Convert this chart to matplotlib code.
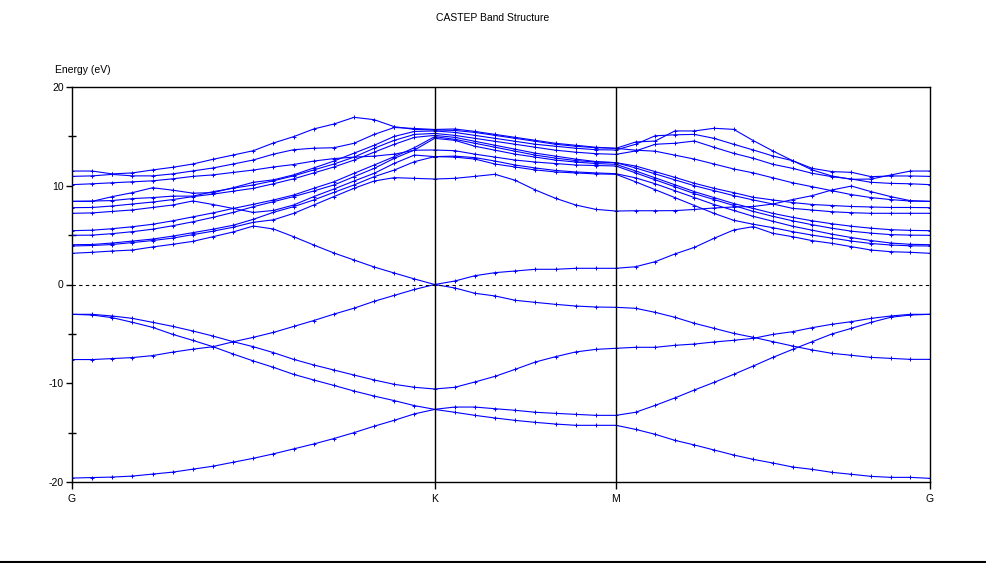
import numpy as np
import matplotlib
matplotlib.use("Agg")
import matplotlib.pyplot as plt
from matplotlib.lines import Line2D

plt.rcParams['font.family'] = ['Liberation Sans', 'DejaVu Sans']
plt.rcParams['axes.unicode_minus'] = False

# high symmetry labels
klabels = ['G', 'K', 'M', 'G']

# band energies (eV) along G-K (19 pts), K-M (10 pts), M-G (17 pts)
# valence bands
v1_gk = [-19.6, -19.55, -19.5, -19.4, -19.2, -19.0, -18.7, -18.4, -18.0, -17.6, -17.15, -16.65, -16.15, -15.6, -15.0, -14.35, -13.75, -13.1, -12.65]
v1_km = [-12.65, -12.94, -13.25, -13.52, -13.76, -13.96, -14.13, -14.26, -14.26, -14.26]
v1_mg = [-14.26, -14.67, -15.17, -15.78, -16.25, -16.76, -17.27, -17.71, -18.08, -18.48, -18.72, -19.02, -19.22, -19.43, -19.53, -19.53, -19.63]

v2_gk = [-3.02, -3.09, -3.36, -3.83, -4.34, -5.05, -5.66, -6.30, -7.04, -7.74, -8.39, -9.10, -9.67, -10.22, -10.79, -11.30, -11.76, -12.27, -12.64]
v2_km = [-12.64, -12.41, -12.41, -12.58, -12.74, -12.94, -13.05, -13.15, -13.25, -13.25]
v2_mg = [-13.25, -12.94, -12.24, -11.49, -10.68, -9.91, -9.10, -8.25, -7.38, -6.57, -5.79, -5.01, -4.44, -3.83, -3.32, -3.09, -3.02]

v3_gk = [-3.02, -3.02, -3.19, -3.43, -3.83, -4.24, -4.71, -5.22, -5.79, -6.30, -6.90, -7.58, -8.15, -8.66, -9.17, -9.67, -10.11, -10.41, -10.58]
v3_km = [-10.58, -10.41, -9.87, -9.30, -8.59, -7.85, -7.31, -6.83, -6.57, -6.46]
v3_mg = [-6.46, -6.36, -6.36, -6.16, -6.03, -5.82, -5.65, -5.45, -5.05, -4.78, -4.37, -4.03, -3.76, -3.43, -3.19, -3.02, -3.02]

v4_gk = [-7.6, -7.6, -7.5, -7.4, -7.2, -6.85, -6.55, -6.3, -5.8, -5.35, -4.85, -4.25, -3.65, -3.0, -2.4, -1.7, -1.1, -0.5, 0.0]
v4_km = [0.0, -0.35, -0.89, -1.16, -1.6, -1.81, -2.01, -2.18, -2.28, -2.31]
v4_mg = [-2.31, -2.41, -2.82, -3.32, -3.93, -4.44, -4.95, -5.35, -5.79, -6.23, -6.63, -6.97, -7.17, -7.38, -7.48, -7.58, -7.58]

# conduction bands
c0_gk = [3.16, 3.26, 3.39, 3.49, 3.80, 4.07, 4.37, 4.84, 5.32, 5.92, 5.62, 4.84, 4.00, 3.19, 2.48, 1.77, 1.16, 0.56, 0.0]
c0_km = [0.0, 0.35, 0.89, 1.2, 1.37, 1.54, 1.54, 1.64, 1.64, 1.64]
c0_mg = [1.64, 1.8, 2.31, 3.09, 3.76, 4.68, 5.52, 5.86, 5.18, 4.84, 4.44, 4.17, 3.83, 3.49, 3.32, 3.26, 3.16]

c1_gk = [3.90, 3.95, 4.05, 4.25, 4.45, 4.7, 5.05, 5.4, 5.8, 6.3, 6.55, 7.2, 8.05, 8.9, 9.74, 10.48, 10.82, 10.75, 10.68]
c1_km = [10.68, 10.75, 10.95, 11.16, 10.55, 9.57, 8.73, 8.05, 7.61, 7.44]
c1_mg = [7.44, 7.47, 7.47, 7.48, 7.6, 7.75, 7.85, 7.9, 8.15, 8.6, 9.0, 9.57, 9.97, 9.4, 8.9, 8.49, 8.42]

c2_gk = [4.03, 4.05, 4.2, 4.4, 4.6, 4.9, 5.25, 5.6, 6.0, 6.6, 7.31, 7.88, 8.56, 9.33, 10.08, 10.92, 11.59, 12.44, 12.95]
c2_km = [12.95, 12.9, 12.7, 12.2, 11.9, 11.6, 11.4, 11.3, 11.2, 11.16]
c2_mg = [11.16, 10.4, 9.6, 8.8, 8.0, 7.2, 6.5, 6.1, 5.75, 5.35, 5.0, 4.7, 4.4, 4.15, 4.0, 3.92, 3.90]

c3_gk = [7.21, 7.25, 7.4, 7.55, 7.8, 8.05, 8.46, 8.1, 7.7, 7.3, 7.5, 8.05, 8.9, 9.67, 10.48, 11.26, 12.27, 13.11, 12.95]
c3_km = [12.95, 13.0, 12.85, 12.5, 12.1, 11.8, 11.55, 11.4, 11.3, 11.22]
c3_mg = [11.22, 10.8, 10.2, 9.5, 8.8, 8.1, 7.5, 6.9, 6.4, 5.9, 5.5, 5.1, 4.75, 4.45, 4.2, 4.07, 4.03]

c4_gk = [4.98, 5.0, 5.15, 5.35, 5.6, 5.95, 6.35, 6.8, 7.3, 7.88, 8.39, 8.9, 9.47, 10.08, 10.92, 11.76, 12.78, 13.62, 14.80]
c4_km = [14.80, 14.6, 14.0, 13.6, 13.2, 12.9, 12.6, 12.4, 12.25, 12.17]
c4_mg = [12.17, 11.5, 10.8, 10.1, 9.4, 8.8, 8.2, 7.7, 7.2, 6.8, 6.45, 6.15, 5.9, 5.7, 5.55, 5.48, 5.45]

c5_gk = [5.45, 5.5, 5.65, 5.85, 6.1, 6.45, 6.85, 7.25, 7.7, 8.12, 8.56, 9.06, 9.74, 10.4, 11.26, 12.1, 12.95, 13.86, 14.97]
c5_km = [14.97, 14.7, 14.3, 13.9, 13.5, 13.1, 12.8, 12.55, 12.4, 12.34]
c5_mg = [12.34, 11.8, 11.2, 10.6, 10.0, 9.5, 9.0, 8.56, 8.15, 7.71, 7.54, 7.37, 7.27, 7.21, 7.21, 7.21, 7.21]

c6_gk = [7.78, 7.8, 7.95, 8.15, 8.35, 8.6, 8.9, 9.15, 9.45, 9.74, 10.2, 10.7, 11.3, 11.9, 12.6, 13.4, 14.2, 14.9, 15.1]
c6_km = [15.1, 14.9, 14.5, 14.1, 13.7, 13.3, 13.0, 12.7, 12.45, 12.34]
c6_mg = [12.34, 12.0, 11.43, 10.85, 10.25, 9.74, 9.3, 8.83, 8.56, 8.3, 8.1, 8.0, 7.9, 7.85, 7.8, 7.8, 7.78]

c7_gk = [8.42, 8.45, 8.5, 8.7, 8.8, 8.95, 8.95, 9.4, 9.75, 10.08, 10.5, 11.0, 11.6, 12.2, 12.9, 13.8, 14.6, 15.2, 15.3]
c7_km = [15.3, 15.1, 14.8, 14.5, 14.2, 13.9, 13.6, 13.4, 13.25, 13.18]
c7_mg = [13.18, 13.52, 14.2, 14.3, 14.53, 13.89, 13.28, 12.78, 12.17, 11.76, 11.26, 10.92, 10.68, 10.35, 10.24, 10.2, 10.11]

c8_gk = [8.42, 8.42, 8.9, 9.3, 9.8, 9.55, 9.25, 9.3, 9.8, 10.35, 10.6, 11.1, 11.8, 12.5, 13.3, 14.1, 15.0, 15.5, 15.55]
c8_km = [15.55, 15.4, 15.1, 14.8, 14.5, 14.2, 14.0, 13.8, 13.65, 13.62]
c8_mg = [13.62, 14.2, 15.06, 15.16, 15.2, 14.8, 14.2, 13.62, 13.01, 12.54, 11.76, 11.43, 11.36, 10.92, 10.99, 10.99, 10.95]

c9_gk = [10.11, 10.2, 10.3, 10.4, 10.5, 10.7, 10.95, 11.1, 11.35, 11.59, 11.9, 12.15, 12.5, 12.75, 12.9, 13.0, 13.2, 13.6, 13.62]
c9_km = [13.62, 13.55, 13.2, 12.9, 12.6, 12.4, 12.25, 12.1, 12.05, 12.0]
c9_mg = [12.0, 11.3, 10.6, 9.9, 9.2, 8.6, 8.0, 7.4, 6.9, 6.45, 6.05, 5.7, 5.4, 5.2, 5.05, 5.0, 4.98]

c10_gk = [10.95, 11.0, 11.15, 11.0, 11.0, 11.2, 11.5, 11.8, 12.2, 12.61, 13.2, 13.65, 13.8, 13.85, 14.3, 15.2, 15.9, 15.8, 15.7]
c10_km = [15.7, 15.75, 15.5, 15.2, 14.9, 14.6, 14.3, 14.1, 13.9, 13.79]
c10_mg = [13.79, 13.6, 13.5, 13.1, 12.7, 12.2, 11.7, 11.3, 10.8, 10.3, 9.9, 9.5, 9.1, 8.8, 8.6, 8.45, 8.42]

c11_gk = [11.49, 11.49, 11.2, 11.3, 11.6, 11.87, 12.2, 12.68, 13.11, 13.55, 14.33, 14.97, 15.75, 16.25, 16.93, 16.69, 15.98, 15.71, 15.65]
c11_km = [15.65, 15.6, 15.4, 15.1, 14.8, 14.5, 14.2, 14.0, 13.85, 13.79]
c11_mg = [13.79, 14.43, 14.53, 15.55, 15.55, 15.82, 15.71, 14.57, 13.52, 12.54, 11.6, 10.99, 10.65, 10.68, 11.09, 11.49, 11.49]

bands = [
    (v1_gk, v1_km, v1_mg), (v2_gk, v2_km, v2_mg), (v3_gk, v3_km, v3_mg), (v4_gk, v4_km, v4_mg),
    (c0_gk, c0_km, c0_mg), (c1_gk, c1_km, c1_mg), (c2_gk, c2_km, c2_mg), (c3_gk, c3_km, c3_mg),
    (c4_gk, c4_km, c4_mg), (c5_gk, c5_km, c5_mg), (c6_gk, c6_km, c6_mg), (c7_gk, c7_km, c7_mg),
    (c8_gk, c8_km, c8_mg), (c9_gk, c9_km, c9_mg), (c10_gk, c10_km, c10_mg), (c11_gk, c11_km, c11_mg),
]

# k-path lengths (hexagonal BZ): |GK| : |KM| : |MG| = 1 : 1/2 : sqrt(3)/2
seg_len = [1.0, 0.5, np.sqrt(3) / 2]
kG, kK = 0.0, seg_len[0]
kM = kK + seg_len[1]
kG2 = kM + seg_len[2]
x_gk = np.linspace(kG, kK, len(v1_gk))
x_km = np.linspace(kK, kM, len(v1_km))
x_mg = np.linspace(kM, kG2, len(v1_mg))
kx = np.concatenate([x_gk, x_km[1:], x_mg[1:]])

fig = plt.figure(figsize=(9.87, 5.63), dpi=100)
ax = fig.add_axes([72 / 987, 1 - 482 / 563, (930 - 72) / 987, (482 - 87) / 563])

for gk, km, mg in bands:
    e = np.concatenate([gk, km[1:], mg[1:]])
    ax.plot(kx, e, color='#0000ff', lw=0.8, marker='+', ms=3.5, mew=0.7)

ax.axhline(0, color='black', lw=0.8, ls=(0, (3, 3)))
for xv in (kK, kM):
    ax.axvline(xv, color='black', lw=1.0)

ax.set_xlim(kG, kG2)
ax.set_ylim(-20, 20)
ax.set_xticks([kG, kK, kM, kG2])
ax.set_xticklabels(klabels)
ax.set_yticks([-20, -10, 0, 10, 20])
ax.set_yticks([-15, -5, 5, 15], minor=True)
ax.tick_params(axis='both', which='major', direction='out', length=4, width=1,
               labelsize=7.5, pad=2)
ax.tick_params(axis='x', which='major', length=5, pad=4)
ax.tick_params(axis='y', which='minor', direction='inout', length=6, width=1)
for s in ax.spines.values():
    s.set_linewidth(1.0)

fig.text(0.4995, 1 - 18 / 563, 'CASTEP Band Structure', ha='center', va='center', fontsize=7.5)
fig.text(55 / 987, 1 - 70 / 563, 'Energy (eV)', ha='left', va='center', fontsize=7.5)
fig.add_artist(Line2D([0, 1], [1 - 561.5 / 563] * 2, color='black', lw=1.5))

fig.savefig('out.png', dpi=100)
